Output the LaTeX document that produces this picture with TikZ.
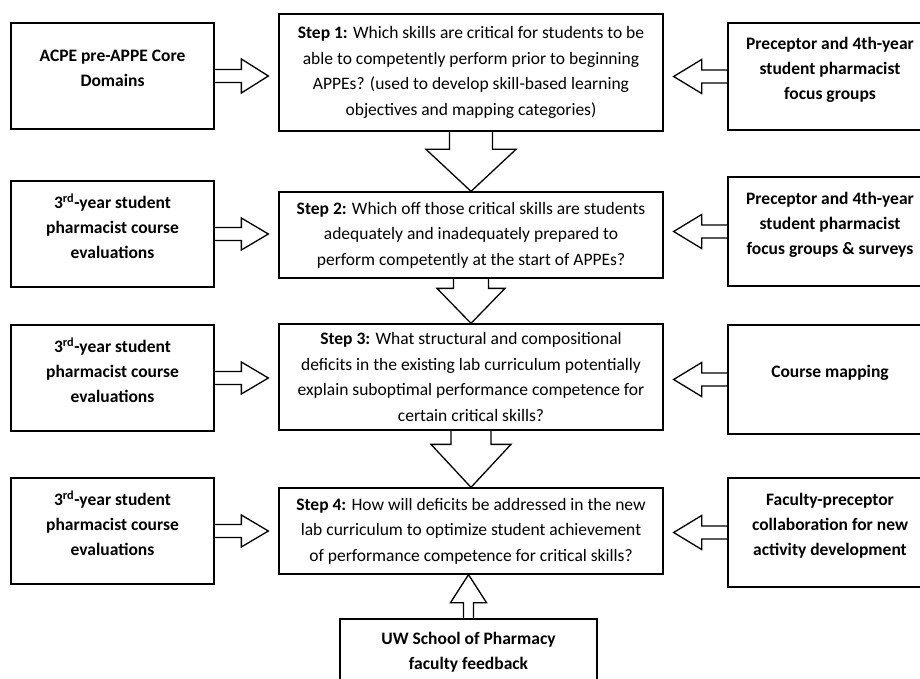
\documentclass[tikz,border=0pt]{standalone}
\usepackage{fontspec}
\setmainfont{Carlito}
\usetikzlibrary{calc}

% block arrow: from, to, gap at tip, shaft half width, head half width, head length
\newcommand{\blockarrow}[6]{%
  \coordinate (ba-tip) at ($(#2)!#3!(#1)$);
  \coordinate (ba-base) at ($(ba-tip)!#6!(#1)$);
  \draw[arrowline] ($(#1)!#4!90:(ba-tip)$) -- ($(ba-base)!#4!90:(ba-tip)$)
    -- ($(ba-base)!#5!90:(ba-tip)$) -- (ba-tip) -- ($(ba-base)!#5!-90:(ba-tip)$)
    -- ($(ba-base)!#4!-90:(ba-tip)$) -- ($(#1)!#4!-90:(ba-tip)$);
}

\begin{document}
\begin{tikzpicture}[x=1pt,y=-1pt,
  srcbox/.style={draw,line width=1.3pt,minimum width=203pt,minimum height=106pt,inner sep=0pt,
    align=center,font=\fontsize{17.5}{25}\selectfont\bfseries,
    execute at end node={\rule[-16pt]{0pt}{0pt}}},
  stepbox/.style={draw,line width=1.3pt,minimum width=384pt,inner sep=0pt,
    align=center,font=\fontsize{17.5}{25.5}\selectfont},
  arrowline/.style={line width=1.3pt,line join=miter}]
\useasboundingbox (0,0) rectangle (920,679);
\clip (0,0) rectangle (920,679);

% step boxes
\node[stepbox,minimum height=117pt] (step1) at (471,72.5) {\textbf{Step 1:} Which skills are critical for students to be\\able to competently perform prior to beginning\\APPEs? (used to develop skill-based learning\\objectives and mapping categories)};
\node[stepbox,minimum height=86pt] (step2) at (471,235) {\textbf{Step 2:} Which off those critical skills are students\\adequately and inadequately prepared to\\perform competently at the start of APPEs?};
\node[stepbox,minimum height=106pt] (step3) at (471,377) {\textbf{Step 3:} What structural and compositional\\deficits in the existing lab curriculum potentially\\explain suboptimal performance competence for\\certain critical skills?};
\node[stepbox,minimum height=86pt] (step4) at (471,531) {\textbf{Step 4:} How will deficits be addressed in the new\\lab curriculum to optimize student achievement\\of performance competence for critical skills?};

% left inputs
\node[srcbox] (acpe) at (112.5,76) {ACPE pre-APPE Core\\Domains};
\node[srcbox] (eval2) at (112.5,234) {3\textsuperscript{rd}-year student\\pharmacist course\\evaluations};
\node[srcbox] (eval3) at (112.5,378) {3\textsuperscript{rd}-year student\\pharmacist course\\evaluations};
\node[srcbox] (eval4) at (112.5,531) {3\textsuperscript{rd}-year student\\pharmacist course\\evaluations};

% right inputs
\node[srcbox,minimum width=204pt,minimum height=107pt] (precfg) at (830,76.5) {Preceptor and 4th-year\\student pharmacist\\focus groups};
\node[srcbox,minimum width=204pt,minimum height=109pt] (precsv) at (830,231.5) {Preceptor and 4th-year\\student pharmacist\\focus groups \& surveys};
\node[srcbox,minimum width=204pt,minimum height=109pt] (mapping) at (830,379.5) {Course mapping};
\node[srcbox,minimum width=204pt,minimum height=109pt] (collab) at (830,532.5) {Faculty-preceptor\\collaboration for new\\activity development};

% bottom input
\node[srcbox,minimum width=257pt,minimum height=80pt] (uwfb) at (468.5,659) {UW School of Pharmacy\\faculty feedback};

% arrows between steps
\blockarrow{step1.south}{step2.north}{0pt}{21.5pt}{45pt}{42pt}
\blockarrow{step2.south}{step3.north}{0pt}{17.5pt}{34pt}{35pt}
\blockarrow{step3.south}{step4.north}{0pt}{20pt}{40pt}{43pt}
\blockarrow{uwfb.north}{step4.south -| uwfb.north}{0pt}{5pt}{18pt}{28pt}

% side arrows
\blockarrow{acpe.east}{step1.west |- acpe.east}{10pt}{6.5pt}{17pt}{27pt}
\blockarrow{eval2.east}{step2.west |- eval2.east}{10pt}{6.5pt}{16pt}{27pt}
\blockarrow{eval3.east}{step3.west |- eval3.east}{10pt}{6.5pt}{16pt}{27pt}
\blockarrow{eval4.east}{step4.west |- eval4.east}{10pt}{6.5pt}{16pt}{27pt}
\blockarrow{precfg.west}{step1.east |- precfg.west}{10pt}{6.5pt}{17pt}{28pt}
\blockarrow{precsv.west}{step2.east |- precsv.west}{10pt}{6.5pt}{17pt}{28pt}
\blockarrow{mapping.west}{step3.east |- mapping.west}{10pt}{6.5pt}{17pt}{28pt}
\blockarrow{collab.west}{step4.east |- collab.west}{10pt}{6.5pt}{17pt}{28pt}
\end{tikzpicture}
\end{document}
